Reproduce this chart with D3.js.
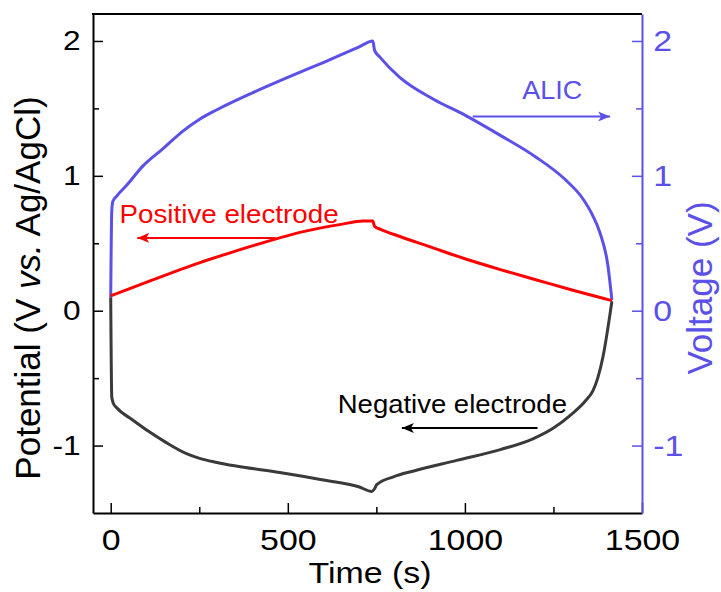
<!DOCTYPE html>
<html>
<head>
<meta charset="utf-8">
<script src="https://cdn.jsdelivr.net/npm/d3@7"></script>
<style>
  body { margin: 0; background: #fff; }
  svg { display: block; }
  text { font-family: Arial, "Liberation Sans", sans-serif; }
</style>
</head>
<body>
<svg id="chart"></svg>
<script>
const WIDTH = 721;
const HEIGHT = 592;
const BLUE = "#5b50e8";
const RED = "#ff0000";
const DARK = "#3a3a3a";
const STRETCH = 1.13;

// ALIC voltage (V) vs time (s)
const timeAlic = [0, 3, 6, 17, 45, 90, 147, 203, 251, 300, 400, 500, 600, 700, 740,
    745, 760, 816, 910, 1000, 1100, 1200, 1280, 1333, 1362, 1381, 1404, 1415];
const voltAlic = [0.10, 0.74, 0.81, 0.85, 0.93, 1.07, 1.20, 1.33, 1.42, 1.49, 1.615, 1.73, 1.84, 1.955, 2.0,
    1.93, 1.88, 1.73, 1.57, 1.45, 1.30, 1.14, 0.98, 0.83, 0.70, 0.58, 0.33, 0.08];

// positive electrode potential
const timePos = [0, 100, 250, 350, 450, 550, 650, 712, 740, 745, 760, 800, 900, 1000, 1100, 1200, 1300, 1415];
const potPos = [0.11, 0.21, 0.355, 0.44, 0.52, 0.59, 0.64, 0.665, 0.665, 0.625, 0.605, 0.565, 0.475, 0.385, 0.305, 0.23, 0.155, 0.075];

// negative electrode potential
const timeNeg = [0, 3, 8, 17, 62, 110, 158, 214, 251, 300, 350, 477, 600, 700, 737, 745, 751,
    800, 853, 977, 1100, 1192, 1250, 1300, 1340, 1362, 1375, 1390, 1410, 1415];
const potNeg = [0.10, -0.64, -0.69, -0.72, -0.81, -0.90, -0.98, -1.06, -1.095, -1.125, -1.15, -1.20, -1.255, -1.305, -1.34, -1.32, -1.29,
    -1.23, -1.19, -1.11, -1.03, -0.95, -0.87, -0.77, -0.67, -0.59, -0.50, -0.34, -0.02, 0.07];

const xTicks = [0, 500, 1000, 1500];
const xMinorTicks = [250, 750, 1250];
const yTicks = [-1, 0, 1, 2];
const yMinorTicks = [-0.5, 0.5, 1.5];

const zip = (xs, ys) => xs.map((t, i) => [t, ys[i]]);

document.addEventListener("DOMContentLoaded", function() {
    const svg = d3.select("#chart")
        .attr("width", WIDTH)
        .attr("height", HEIGHT);

    const x = d3.scaleLinear().domain([-50, 1500]).range([93, 642]);
    const y = d3.scaleLinear().domain([-1.5, 2.2]).range([513, 14]);

    const line = d3.line()
        .x(d => x(d[0]))
        .y(d => y(d[1]))
        .curve(d3.curveMonotoneX);

    // curves
    [[zip(timeAlic, voltAlic), BLUE], [zip(timeNeg, potNeg), DARK], [zip(timePos, potPos), RED]]
        .forEach(([data, color]) => {
            svg.append("path")
                .datum(data)
                .attr("fill", "none")
                .attr("stroke", color)
                .attr("stroke-width", 3)
                .attr("stroke-linejoin", "round")
                .attr("d", line);
        });

    const fmt = d => String(d);

    function styleAxis(g, color, size) {
        g.select(".domain").attr("stroke", color).attr("stroke-width", 2);
        g.selectAll(".tick line").attr("stroke", color).attr("stroke-width", 1.5);
        g.selectAll(".tick text")
            .attr("fill", color)
            .style("font-size", size + "px")
            .attr("transform", `scale(${STRETCH},1)`);
    }

    function minor(g, color) {
        g.select(".domain").remove();
        g.selectAll(".tick line").attr("stroke", color).attr("stroke-width", 1.5);
    }

    // bottom axis
    const gx = svg.append("g").attr("transform", "translate(0,513)")
        .call(d3.axisBottom(x).tickValues(xTicks).tickFormat(fmt).tickSize(-10).tickSizeOuter(0).tickPadding(16));
    styleAxis(gx, "#000", 30);
    minor(svg.append("g").attr("transform", "translate(0,513)")
        .call(d3.axisBottom(x).tickValues(xMinorTicks).tickSize(-6).tickFormat("")), "#000");

    // left axis
    const gy = svg.append("g").attr("transform", "translate(93,0)")
        .call(d3.axisLeft(y).tickValues(yTicks).tickFormat(fmt).tickSize(-10).tickSizeOuter(0).tickPadding(11));
    styleAxis(gy, "#000", 28);
    minor(svg.append("g").attr("transform", "translate(93,0)")
        .call(d3.axisLeft(y).tickValues(yMinorTicks).tickSize(-6).tickFormat("")), "#000");

    // right axis
    const gr = svg.append("g").attr("transform", "translate(642,0)")
        .call(d3.axisRight(y).tickValues(yTicks).tickFormat(fmt).tickSize(-10).tickSizeOuter(0).tickPadding(10));
    styleAxis(gr, BLUE, 30);
    minor(svg.append("g").attr("transform", "translate(642,0)")
        .call(d3.axisRight(y).tickValues(yMinorTicks).tickSize(-6).tickFormat("")), BLUE);

    // top frame line
    svg.append("line")
        .attr("x1", 92).attr("x2", 642)
        .attr("y1", 14).attr("y2", 14)
        .attr("stroke", "#000").attr("stroke-width", 2);

    function hText(px, py, str, size, color, anchor, sx) {
        return svg.append("text")
            .attr("transform", `translate(${px},${py}) scale(${sx},1)`)
            .attr("text-anchor", anchor)
            .attr("fill", color)
            .style("font-size", size + "px")
            .text(str);
    }

    // axis titles
    hText(370, 583, "Time (s)", 30, "#000", "middle", STRETCH);

    const yl = svg.append("text")
        .attr("transform", "translate(40,288) rotate(-90)")
        .attr("text-anchor", "middle")
        .style("font-size", "35px")
        .attr("fill", "#000");
    yl.append("tspan").text("Potential (V ");
    yl.append("tspan").style("font-style", "italic").text("vs.");
    yl.append("tspan").text(" Ag/AgCl)");

    svg.append("text")
        .attr("transform", "translate(712,288) rotate(-90)")
        .attr("text-anchor", "middle")
        .style("font-size", "35px")
        .attr("fill", BLUE)
        .text("Voltage (V)");

    // annotations with arrows
    const defs = svg.append("defs");
    [["arrRed", RED], ["arrBlue", BLUE], ["arrBlack", "#000"]].forEach(([id, c]) => {
        defs.append("marker")
            .attr("id", id)
            .attr("viewBox", "0 0 12 10")
            .attr("refX", 12).attr("refY", 5)
            .attr("markerWidth", 12).attr("markerHeight", 10)
            .attr("markerUnits", "userSpaceOnUse")
            .attr("orient", "auto")
            .append("path")
            .attr("d", "M0,0L12,5L0,10L3,5Z")
            .attr("fill", c);
    });

    function arrow(t1, v1, t2, v2, color, marker) {
        svg.append("line")
            .attr("x1", x(t1)).attr("y1", y(v1))
            .attr("x2", x(t2)).attr("y2", y(v2))
            .attr("stroke", color).attr("stroke-width", 2)
            .attr("marker-end", `url(#${marker})`);
    }

    hText(x(25), y(0.65), "Positive electrode", 25, RED, "start", 1.11);
    arrow(465, 0.54, 75, 0.54, RED, "arrRed");

    hText(x(1162), y(1.57), "ALIC", 25, BLUE, "start", 1.08);
    arrow(1022, 1.44, 1410, 1.44, BLUE, "arrBlue");

    hText(x(641), y(-0.76), "Negative electrode", 25, "#000", "start", 1.10);
    arrow(1205, -0.87, 822, -0.87, "#000", "arrBlack");
});
</script>
</body>
</html>
